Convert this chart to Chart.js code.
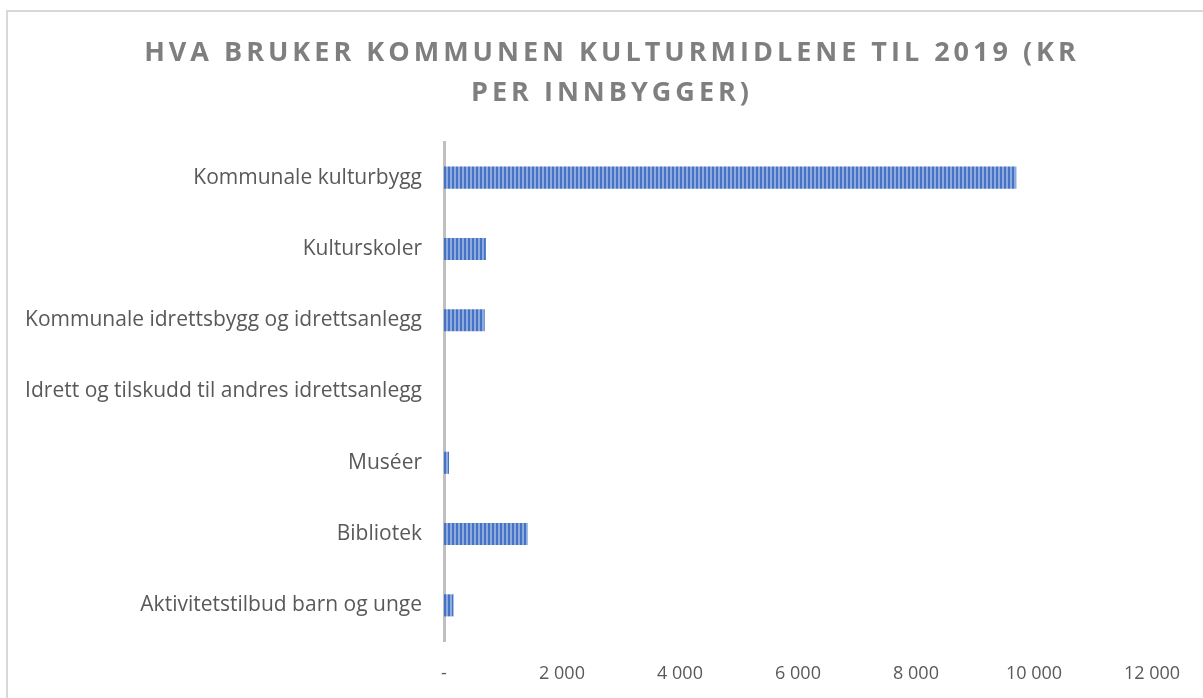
<!DOCTYPE html>
<html>
<head>
<meta charset="utf-8">
<script src="https://cdn.jsdelivr.net/npm/chart.js@4"></script>
<style>
  html, body { margin: 0; padding: 0; background: #fff; }
  #wrap { width: 1203px; height: 698px; position: relative; }
</style>
</head>
<body>
<div id="wrap"><canvas id="kulturChart"></canvas></div>
<script>
const categories = [
    "Kommunale kulturbygg",
    "Kulturskoler",
    "Kommunale idrettsbygg og idrettsanlegg",
    "Idrett og tilskudd til andres idrettsanlegg",
    "Muséer",
    "Bibliotek",
    "Aktivitetstilbud barn og unge"
];
const krPerInnbygger = [9700, 710, 690, 0, 85, 1420, 160];
const titleLines = ["HVA BRUKER KOMMUNEN KULTURMIDLENE TIL 2019 (KR", "PER INNBYGGER)"];

function stripePattern() {
    const c = document.createElement("canvas");
    c.width = 4;
    c.height = 4;
    const g = c.getContext("2d");
    g.fillStyle = "#8FAADC";
    g.fillRect(0, 0, 4, 4);
    g.fillStyle = "#4472C4";
    g.fillRect(0, 0, 2, 4);
    return g.createPattern(c, "repeat");
}

// excel-ish frame around the chart
const framePlugin = {
    id: "frame",
    beforeDraw(chart) {
        const ctx = chart.ctx;
        ctx.save();
        ctx.strokeStyle = "#d9d9d9";
        ctx.lineWidth = 2;
        ctx.beginPath();
        ctx.moveTo(7, chart.height + 5);
        ctx.lineTo(7, 11);
        ctx.lineTo(chart.width + 5, 11);
        ctx.stroke();
        ctx.restore();
    }
};

// letter spaced title, centred on the page like the original
const spacedTitle = {
    id: "spacedTitle",
    beforeDraw(chart) {
        const t = chart.titleBlock;
        if (t && !t._spaced) {
            const orig = t.draw.bind(t);
            t.draw = function () {
                chart.ctx.save();
                chart.ctx.letterSpacing = "4px";
                chart.ctx.translate(32, 1);
                orig();
                chart.ctx.restore();
            };
            t._spaced = true;
        }
    }
};

const ctx = document.getElementById("kulturChart").getContext("2d");

new Chart(ctx, {
    type: "bar",
    data: {
        labels: categories,
        datasets: [{
            label: "Kr per innbygger",
            data: krPerInnbygger,
            backgroundColor: stripePattern(),
            borderWidth: 0,
            barPercentage: 0.31,
            categoryPercentage: 1
        }]
    },
    options: {
        indexAxis: "y",
        responsive: true,
        maintainAspectRatio: false,
        animation: false,
        layout: {
            padding: { left: 8, right: 51, top: 0, bottom: 0 }
        },
        plugins: {
            legend: { display: false },
            tooltip: { enabled: false },
            title: {
                display: true,
                text: titleLines,
                color: "#7f7f7f",
                font: { family: "'Open Sans'", size: 27, weight: "bold", lineHeight: "40px" },
                padding: { top: 32, bottom: 30 }
            }
        },
        scales: {
            x: {
                min: 0,
                max: 12000,
                ticks: {
                    stepSize: 2000,
                    color: "#595959",
                    font: { family: "'Open Sans'", size: 18 },
                    padding: 14,
                    callback: v => v === 0 ? "-" : v.toLocaleString("nb-NO").replace(/\s/g, " ")
                },
                grid: { display: false },
                border: { display: false },
                afterFit(scale) { scale.height = 57; }
            },
            y: {
                ticks: {
                    color: "#595959",
                    font: { family: "'Open Sans'", size: 21 },
                    padding: 14
                },
                grid: { display: false },
                border: { display: true, color: "#bfbfbf", width: 3 },
                afterFit(scale) { scale.width = 436; }
            }
        }
    },
    plugins: [framePlugin, spacedTitle]
});
</script>
</body>
</html>
